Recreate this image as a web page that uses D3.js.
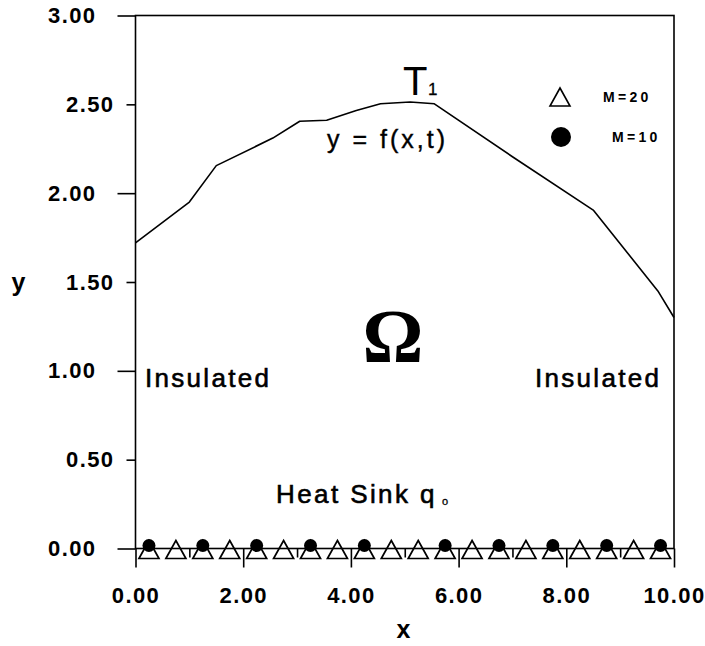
<!DOCTYPE html>
<html><head><meta charset="utf-8">
<script src="https://cdn.jsdelivr.net/npm/d3@7"></script>
<style>body{margin:0;background:#fff}svg{display:block}</style>
</head><body>
<svg id="c" width="705" height="646"></svg>
<script>
// ---- data ----
const curveX = [0, 1.0, 1.5, 2.55, 3.05, 3.55, 4.1, 4.55, 5.1, 5.55, 7.0, 8.5, 9.7, 10.0];
const curveY = [1.72, 1.95, 2.155, 2.31, 2.405, 2.41, 2.465, 2.503, 2.513, 2.503, 2.205, 1.905, 1.45, 1.30];
const m20X = [0.25,0.75,1.25,1.75,2.25,2.75,3.25,3.75,4.25,4.75,5.25,5.75,6.25,6.75,7.25,7.75,8.25,8.75,9.25,9.75];
const m20Y = m20X.map(() => 0);
const m10X = [0.25,1.25,2.25,3.25,4.25,5.75,6.75,7.75,8.75,9.75];
const m10Y = m10X.map(() => 0);
const xMajor = [0,2,4,6,8,10];
const xMinor = [1,3,5,7,9];
const yMajor = [0,1,2,3];
const yMinor = [0.5,1.5,2.5];
const legendLabels = ["M=20","M=10"];

// ---- drawing ----
const svg = d3.select("#c");
const x = d3.scaleLinear([0,10],[135.5,674]);
const y = d3.scaleLinear([0,3],[548.5,15.5]);
const fmt = d3.format(".2f");
const SW = 1.6;

function styleAxis(g){
  g.select(".domain").remove();
  g.selectAll("line").attr("stroke","#000").attr("stroke-width",SW);
  g.selectAll("text").attr("fill","#000")
   .style("font-family","'Liberation Sans', Arial, sans-serif")
   .style("font-weight","bold").style("font-size","22px")
   .style("letter-spacing","1.4px");
}
svg.append("g").attr("transform",`translate(${x(0)},0)`)
  .call(d3.axisLeft(y).tickValues(yMajor).tickSize(18).tickPadding(21).tickFormat(fmt)).call(styleAxis);
svg.append("g").attr("transform",`translate(${x(0)},0)`)
  .call(d3.axisLeft(y).tickValues(yMinor).tickSize(9).tickPadding(12).tickFormat(fmt)).call(styleAxis);
svg.append("g").attr("transform",`translate(0,${y(0)})`)
  .call(d3.axisBottom(x).tickValues(xMajor).tickSize(19).tickPadding(20).tickFormat(fmt)).call(styleAxis);
svg.append("g").attr("transform",`translate(0,${y(0)})`)
  .call(d3.axisBottom(x).tickValues(xMinor).tickSize(9).tickFormat("")).call(styleAxis);

// frame
svg.append("rect").attr("x",x(0)).attr("y",y(3)).attr("width",x(10)-x(0)).attr("height",y(0)-y(3))
  .attr("fill","none").attr("stroke","#000").attr("stroke-width",SW);

// curve
const pts = curveX.map((d,i)=>[d,curveY[i]]);
svg.append("path").attr("d", d3.line().x(d=>x(d[0])).y(d=>y(d[1]))(pts))
  .attr("fill","none").attr("stroke","#000").attr("stroke-width",1.6).attr("stroke-linejoin","round");

// markers
const triPath = (w,h) => `M0,${-h/2}L${w/2},${h/2}L${-w/2},${h/2}Z`;
svg.append("g").selectAll("path").data(m20X.map((d,i)=>[d,m20Y[i]])).join("path")
  .attr("d", triPath(20,18)).attr("transform",d=>`translate(${x(d[0])},${y(d[1])+1})`)
  .attr("fill","none").attr("stroke","#000").attr("stroke-width",1.7).attr("stroke-linejoin","miter");
svg.append("g").selectAll("circle").data(m10X.map((d,i)=>[d,m10Y[i]])).join("circle")
  .attr("cx",d=>x(d[0])).attr("cy",d=>y(d[1])-3).attr("r",6.5).attr("fill","#000");

// legend
const lg = svg.append("g").style("font-family","'Liberation Sans', Arial, sans-serif")
  .style("font-weight","bold").style("font-size","14px").style("letter-spacing","3.3px");
lg.append("path").attr("d",triPath(20,18)).attr("transform","translate(560,97)")
  .attr("fill","none").attr("stroke","#000").attr("stroke-width",1.6);
lg.append("circle").attr("cx",561).attr("cy",137).attr("r",10).attr("fill","#000");
lg.append("text").attr("x",603).attr("y",101.5).text(legendLabels[0]);
lg.append("text").attr("x",612).attr("y",142).text(legendLabels[1]);

// annotations
const sans = "'Liberation Sans', Arial, sans-serif";
function txt(t,xx,yy,size,opts={}){
  return svg.append("text").attr("x",xx).attr("y",yy).text(t)
    .style("font-family",opts.family||sans).style("font-size",size+"px")
    .style("font-weight",opts.weight||"normal").style("letter-spacing",(opts.ls||0)+"px")
    .attr("text-anchor",opts.anchor||"start").attr("fill","#000")
    .attr("stroke", opts.sw ? "#000" : "none").attr("stroke-width", opts.sw||0);
}
txt("y",18.5,291,25,{weight:"bold",anchor:"middle"});
txt("x",403.5,638,25,{weight:"bold",anchor:"middle"});
txt("Insulated",145,386.5,26,{ls:2.3,sw:0.6});
txt("Insulated",535,386.5,26,{ls:2.3,sw:0.6});
txt("Heat Sink q",276,503,26,{ls:2.4,sw:0.6});
txt("o",442,505,11,{sw:0.3});
txt("y = f(x,t)",327,148,25,{ls:3,sw:0.4});
txt("T",403,95,40);
txt("1",428,95,17,{sw:0.3});
txt("Ω",393,362,76,{family:"'Liberation Serif', 'Times New Roman', serif",weight:"bold",anchor:"middle"});
</script>
</body></html>
